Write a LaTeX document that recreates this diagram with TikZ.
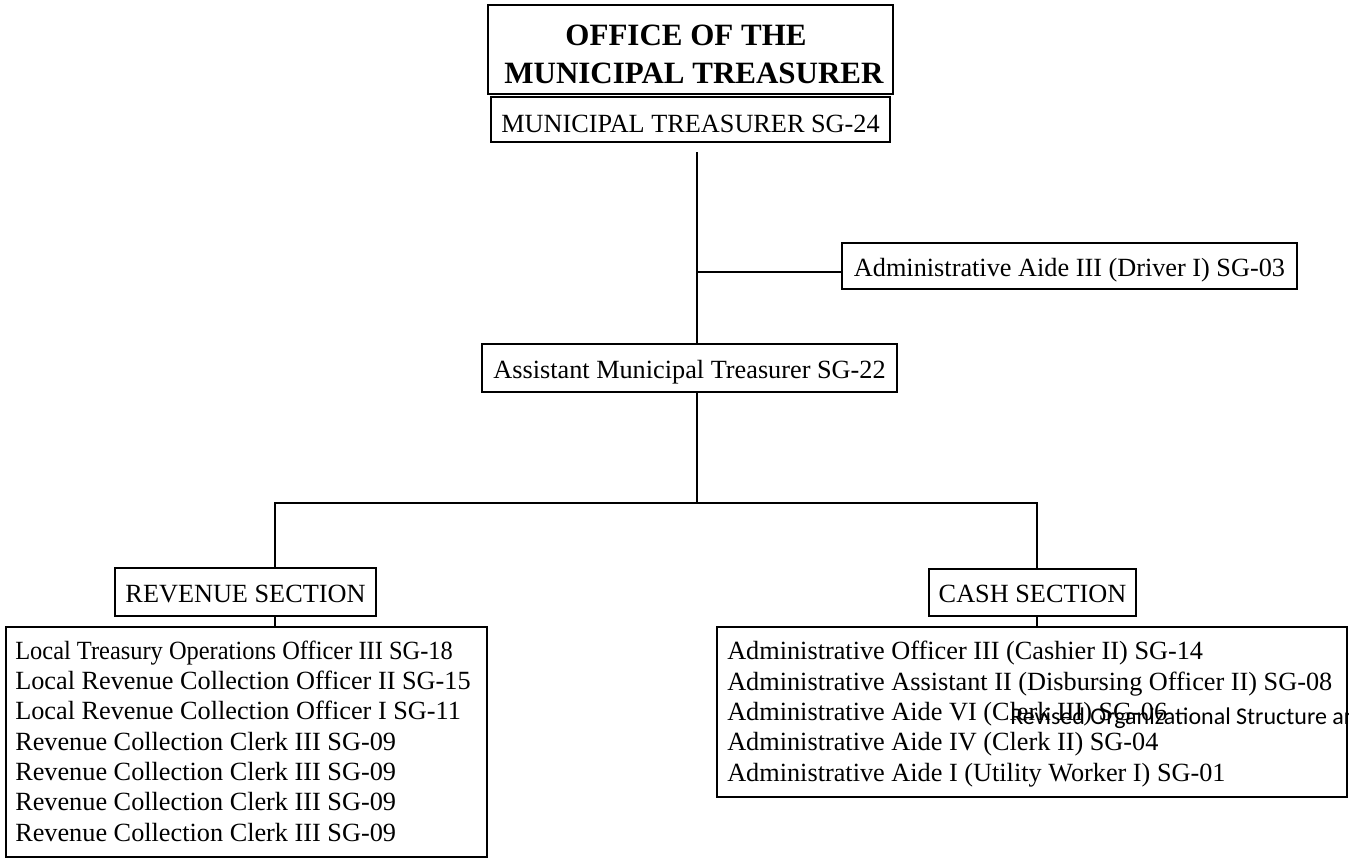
\documentclass[tikz,border=0pt]{standalone}
\usepackage{fontspec}
\usepackage{graphicx}
\setmainfont{Liberation Serif}
\newfontfamily\notefont{Carlito}
\begin{document}
\begin{tikzpicture}[x=0.75pt,y=0.75pt,
  box/.style={draw, line width=1.6pt, inner sep=0pt,
    font=\fontsize{19.7pt}{22.7pt}\selectfont,
    text height=19.5pt, text depth=4.5pt},
  link/.style={line width=1.4pt},
  entry/.style={anchor=base west, inner sep=0pt,
    font=\fontsize{19.7pt}{22.7pt}\selectfont},
  heading/.style={anchor=base, inner sep=0pt,
    font=\fontsize{23.25pt}{28.5pt}\selectfont\bfseries},
  note/.style={anchor=base west, inner sep=0pt,
    font=\notefont\fontsize{18pt}{21pt}\selectfont}]
% page area (pixel grid, y grows downward)
\clip (0,0) rectangle (1349,-858);
\fill[white] (0,0) rectangle (1349,-858);

% title block
\node[box, minimum width=303.75pt, minimum height=66.75pt] (office) at (690.5,-49.5) {};
\node[heading] (officeA) at (686,-45) {OFFICE OF THE};
\node[heading] (officeB) at (694,-83) {MUNICIPAL TREASURER};
\node[box, minimum width=299.25pt, minimum height=33.75pt, text height=23.25pt] (mt) at (690.5,-119.5) {MUNICIPAL TREASURER SG-24};

% staff positions
\node[box, minimum width=341.25pt, minimum height=34.5pt] (drv) at (1069.5,-266) {Administrative Aide III (Driver I) SG-03};
\node[box, minimum width=311.25pt, minimum height=36pt] (asst) at (689.5,-368) {Assistant Municipal Treasurer SG-22};

% sections
\node[box, minimum width=195.75pt, minimum height=36pt] (rev) at (245.5,-592) {REVENUE SECTION};
\node[box, minimum width=155.25pt, minimum height=35.25pt] (cash) at (1032.5,-592.5) {CASH SECTION};

% section staff lists
\node[box, minimum width=360.75pt, minimum height=172.5pt] (revlist) at (246.5,-742) {};
\node[box, minimum width=472.5pt, minimum height=127.5pt] (cashlist) at (1032,-712) {};

\node[entry] (r1) at (15,-659) {\scalebox{0.93}[1]{Local Treasury Operations Officer III SG-18}};
\node[entry] (r2) at (15,-689.3) {Local Revenue Collection Officer II SG-15};
\node[entry] (r3) at (15,-719.6) {Local Revenue Collection Officer I SG-11};
\node[entry] (r4) at (15,-750) {Revenue Collection Clerk III SG-09};
\node[entry] (r5) at (15,-780.3) {Revenue Collection Clerk III SG-09};
\node[entry] (r6) at (15,-810.6) {Revenue Collection Clerk III SG-09};
\node[entry] (r7) at (15,-841) {Revenue Collection Clerk III SG-09};

\node[entry] (c1) at (727,-659.5) {Administrative Officer III (Cashier II) SG-14};
\node[entry] (c2) at (727,-690) {Administrative Assistant II (Disbursing Officer II) SG-08};
\node[entry] (c3) at (727,-720) {Administrative Aide VI (Clerk III) SG-06};
\node[entry] (c4) at (727,-750.5) {Administrative Aide IV (Clerk II) SG-04};
\node[entry] (c5) at (727,-781) {Administrative Aide I (Utility Worker I) SG-01};

\node[note] (doc) at (1010,-724) {Revised Organizational Structure ar};

% connector junctions
\coordinate (tx) at (697,-152);
\coordinate (jd) at (697,-272);
\coordinate (jm) at (697,-503);
\coordinate (jl) at (275,-503);
\coordinate (jr) at (1037,-503);

% connectors
\draw[link] (tx) -- (tx |- asst.north);
\draw[link] (jd) -- (jd -| drv.west);
\draw[link] (tx |- asst.south) -- (jm);
\draw[link, line cap=rect] (jl) -- (jr);
\draw[link] (jl) -- (jl |- rev.north);
\draw[link] (jr) -- (jr |- cash.north);
\draw[link] (jl |- rev.south) -- (jl |- revlist.north);
\draw[link] (jr |- cash.south) -- (jr |- cashlist.north);
\end{tikzpicture}
\end{document}
